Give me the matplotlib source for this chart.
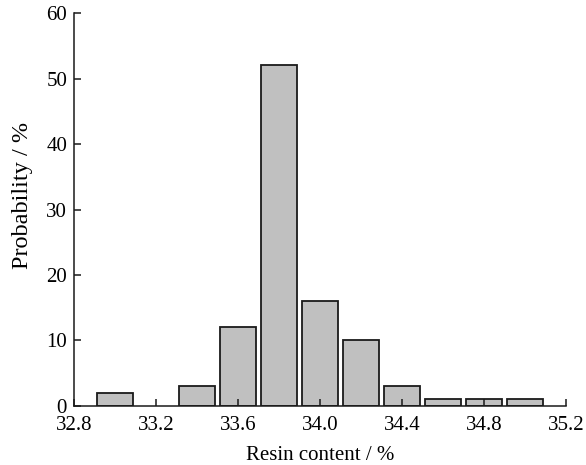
import matplotlib
matplotlib.use('Agg')
import matplotlib.pyplot as plt

# histogram of resin content
bin_centers = [33.0, 33.4, 33.6, 33.8, 34.0, 34.2, 34.4, 34.6, 34.8, 35.0]
probability = [2, 3, 12, 52, 16, 10, 3, 1, 1, 1]
x_ticks = [32.8, 33.2, 33.6, 34.0, 34.4, 34.8, 35.2]
y_ticks = [0, 10, 20, 30, 40, 50, 60]

plt.rcParams['font.family'] = ['Liberation Serif', 'DejaVu Serif']

fig = plt.figure(figsize=(5.86, 4.65), dpi=100)
ax = fig.add_axes([0.1263, 0.1269, 0.8396, 0.8451])

ax.bar(bin_centers, probability, width=0.18, color='#c0c0c0',
       edgecolor='#1a1a1a', linewidth=1.3, zorder=1)

ax.set_xlim(32.8, 35.2)
ax.set_ylim(0, 60)
ax.set_xticks(x_ticks)
ax.set_xticklabels(['%.1f' % t for t in x_ticks])
ax.set_yticks(y_ticks)

for s in ['top', 'right']:
    ax.spines[s].set_visible(False)
for s in ['left', 'bottom']:
    ax.spines[s].set_linewidth(1.1)
    ax.spines[s].set_color('#1a1a1a')
    ax.spines[s].set_zorder(3)

ax.tick_params(direction='in', length=5, width=1.1, color='#1a1a1a',
               labelsize=15, pad=5)
ax.tick_params(axis='x', pad=7)
ax.set_axisbelow(False)

ax.set_xlabel('Resin content / %', fontsize=15, labelpad=8)
ax.set_ylabel('Probability / %', fontsize=17.5)
ax.yaxis.set_label_coords(-0.083, 0.535)

fig.savefig('out.png', dpi=100)
